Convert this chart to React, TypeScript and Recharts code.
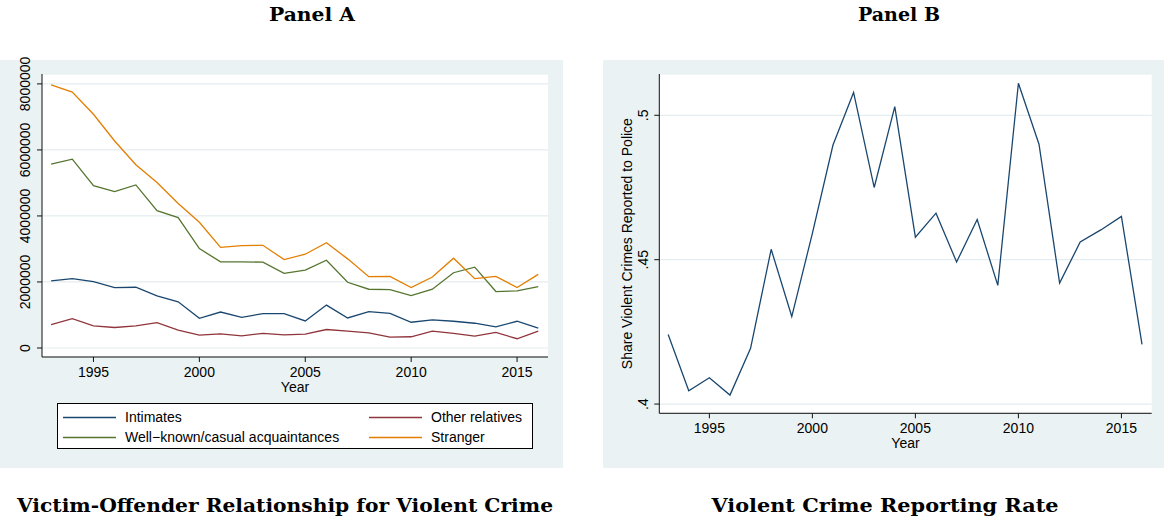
import React from 'react';
import { LineChart, Line, XAxis, YAxis, CartesianGrid, Legend } from 'recharts';

// Survey years
const years = [
  1993, 1994, 1995, 1996, 1997, 1998, 1999, 2000, 2001, 2002, 2003, 2004,
  2005, 2006, 2007, 2008, 2009, 2010, 2011, 2012, 2013, 2014, 2015, 2016,
];

// Panel A: violent victimizations by victim-offender relationship
const intimates = [
  2030000, 2100000, 2010000, 1830000, 1840000, 1580000, 1400000, 900000, 1090000, 930000, 1040000, 1040000,
  820000, 1300000, 910000, 1100000, 1050000, 780000, 850000, 810000, 750000, 640000, 810000, 600000,
];
const otherRelatives = [
  710000, 890000, 670000, 620000, 670000, 770000, 540000, 390000, 430000, 370000, 440000, 400000,
  420000, 560000, 510000, 460000, 330000, 340000, 510000, 440000, 360000, 470000, 280000, 510000,
];
const acquaintances = [
  5570000, 5720000, 4920000, 4740000, 4940000, 4160000, 3950000, 3010000, 2610000, 2610000, 2600000, 2260000,
  2360000, 2660000, 1990000, 1780000, 1770000, 1590000, 1780000, 2280000, 2450000, 1710000, 1730000, 1860000,
];
const stranger = [
  7970000, 7750000, 7080000, 6270000, 5550000, 5010000, 4380000, 3810000, 3050000, 3100000, 3110000, 2680000,
  2840000, 3190000, 2700000, 2160000, 2170000, 1830000, 2150000, 2720000, 2100000, 2170000, 1830000, 2230000,
];

// Panel B: share of violent crimes reported to police
const reportingRate = [
  0.4241, 0.4046, 0.4091, 0.4031, 0.4193, 0.4536, 0.4303, 0.4591, 0.4897, 0.5079, 0.475, 0.503,
  0.4578, 0.4661, 0.4492, 0.4639, 0.4411, 0.5111, 0.49, 0.4419, 0.4561, 0.4603, 0.465, 0.4207,
];

const yearTicks = [1995, 2000, 2005, 2010, 2015];
const countTicks = [0, 2000000, 4000000, 6000000, 8000000];
const rateTicks = [0.4, 0.45, 0.5];

const seriesA = [
  { key: 'intimates', name: 'Intimates', color: '#1a476f' },
  { key: 'otherRelatives', name: 'Other relatives', color: '#90353b' },
  { key: 'acquaintances', name: 'Well\u2212known/casual acquaintances', color: '#55752f' },
  { key: 'stranger', name: 'Stranger', color: '#e37e00' },
];

const dataA = years.map((year, i) => ({
  year,
  intimates: intimates[i],
  otherRelatives: otherRelatives[i],
  acquaintances: acquaintances[i],
  stranger: stranger[i],
}));

const dataB = years.map((year, i) => ({ year, rate: reportingRate[i] }));

const FONT = '"Liberation Sans", Arial, Helvetica, sans-serif';
const BG = '#eaf2f3';
const GRID = '#e4edef';
const AXIS = '#111';

const rateLabel = (v: number) => String(v).replace(/^0/, '');

// y tick labels are drawn vertically, reading bottom to top
const RotatedTick = ({ x, y, payload, format }: any) => (
  <text
    x={x}
    y={y}
    transform={`rotate(-90, ${x}, ${y})`}
    textAnchor="middle"
    fontFamily={FONT}
    fontSize={14}
    fill="#000"
  >
    {format ? format(payload.value) : payload.value}
  </text>
);

// two-column legend, filled row by row in series order
const LegendBox = () => (
  <div
    style={{
      position: 'relative',
      width: 476,
      height: 46,
      boxSizing: 'border-box',
      background: '#fff',
      border: '1px solid #000',
      fontFamily: FONT,
      fontSize: 14,
      color: '#000',
    }}
  >
    {seriesA.map((s, i) => {
      const left = i % 2 === 0 ? 5 : 311;
      const top = Math.floor(i / 2) * 20 + 5;
      return (
        <div key={s.key} style={{ position: 'absolute', left, top, height: 16, whiteSpace: 'nowrap' }}>
          <svg width={53} height={16} style={{ position: 'absolute', left: 0, top: 0 }}>
            <line x1={0} x2={53} y1={8.5} y2={8.5} stroke={s.color} strokeWidth={1.4} />
          </svg>
          <span style={{ position: 'absolute', left: 62, top: 0, lineHeight: '16px' }}>{s.name}</span>
        </div>
      );
    })}
  </div>
);

const ShareLabel = ({ viewBox }: any) => {
  const cx = viewBox.x + 28.7;
  const cy = viewBox.y + viewBox.height / 2;
  return (
    <text
      x={cx}
      y={cy}
      transform={`rotate(-90, ${cx}, ${cy})`}
      textAnchor="middle"
      fontFamily={FONT}
      fontSize={14}
      fill="#000"
    >
      Share Violent Crimes Reported to Police
    </text>
  );
};

const titleStyle = {
  fontFamily: '"DejaVu Serif", serif',
  fontWeight: 'bold' as const,
  fontSize: 18,
  fill: '#000',
};

export default function App() {
  return (
    <div style={{ position: 'absolute', left: 0, top: 0, width: 1164, height: 519, background: '#fff' }}>
      <style>{'.recharts-surface { overflow: visible; }'}</style>
      <svg width={1164} height={519} style={{ position: 'absolute', left: 0, top: 0 }}>
        <text x={312} y={20.6} textAnchor="middle" textLength={86} lengthAdjust="spacingAndGlyphs" {...titleStyle}>
          Panel A
        </text>
        <text x={899} y={20.6} textAnchor="middle" textLength={82} lengthAdjust="spacingAndGlyphs" {...titleStyle}>
          Panel B
        </text>
        <text x={285} y={511.6} textAnchor="middle" textLength={536} lengthAdjust="spacingAndGlyphs" {...titleStyle}>
          Victim-Offender Relationship for Violent Crime
        </text>
        <text x={885} y={511.6} textAnchor="middle" textLength={347} lengthAdjust="spacingAndGlyphs" {...titleStyle}>
          Violent Crime Reporting Rate
        </text>
      </svg>

      <div style={{ position: 'absolute', left: 0, top: 60, width: 563, height: 408, background: BG }}>
        <LineChart width={563} height={408} data={dataA} margin={{ top: 14, right: 15, left: 0, bottom: 86 }}>
          <CartesianGrid horizontal vertical={false} stroke={GRID} strokeWidth={1.2} fill="#fff" />
          <XAxis
            dataKey="year"
            type="number"
            domain={[1992.57, 2016.46]}
            ticks={yearTicks}
            allowDataOverflow
            height={25}
            tickSize={5}
            tickMargin={5}
            stroke={AXIS}
            tick={{ fill: '#000', fontSize: 14, fontFamily: FONT }}
            label={{ value: 'Year', position: 'bottom', offset: 0, fill: '#000', fontSize: 14, fontFamily: FONT }}
          />
          <YAxis
            type="number"
            domain={[-273000, 8300000]}
            ticks={countTicks}
            allowDataOverflow
            width={42}
            tickSize={5}
            tickMargin={7}
            stroke={AXIS}
            tick={<RotatedTick />}
          />
          {seriesA.map((s) => (
            <Line
              key={s.key}
              type="linear"
              dataKey={s.key}
              name={s.name}
              stroke={s.color}
              strokeWidth={1.3}
              dot={false}
              isAnimationActive={false}
            />
          ))}
          <Legend
            layout="horizontal"
            verticalAlign="middle"
            align="center"
            content={<LegendBox />}
            wrapperStyle={{ left: 57, top: 343, width: 476, height: 46 }}
          />
        </LineChart>
      </div>

      <div style={{ position: 'absolute', left: 603, top: 60, width: 561, height: 408, background: BG }}>
        <LineChart width={561} height={408} data={dataB} margin={{ top: 14, right: 12.3, left: 0, bottom: 29.7 }}>
          <CartesianGrid horizontal vertical={false} stroke={GRID} strokeWidth={1.2} fill="#fff" />
          <XAxis
            dataKey="year"
            type="number"
            domain={[1992.57, 2016.47]}
            ticks={yearTicks}
            allowDataOverflow
            height={25}
            tickSize={5}
            tickMargin={5}
            stroke={AXIS}
            tick={{ fill: '#000', fontSize: 14, fontFamily: FONT }}
            label={{ value: 'Year', position: 'bottom', offset: 0, fill: '#000', fontSize: 14, fontFamily: FONT }}
          />
          <YAxis
            type="number"
            domain={[0.3968, 0.5143]}
            ticks={rateTicks}
            allowDataOverflow
            width={56.3}
            tickSize={5}
            tickMargin={6}
            stroke={AXIS}
            tick={<RotatedTick format={rateLabel} />}
            label={<ShareLabel />}
          />
          <Line
            type="linear"
            dataKey="rate"
            name="Share reported"
            stroke="#1a476f"
            strokeWidth={1.3}
            dot={false}
            isAnimationActive={false}
          />
        </LineChart>
      </div>
    </div>
  );
}
